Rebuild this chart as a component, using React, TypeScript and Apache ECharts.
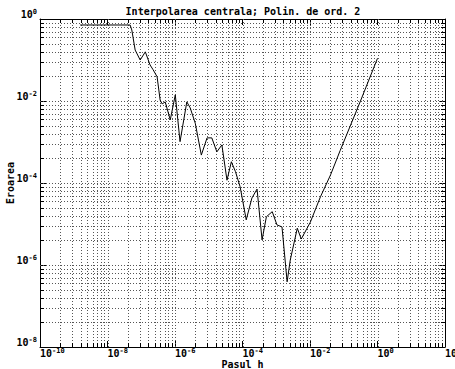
import React, { useEffect, useRef } from 'react';
import * as echarts from 'echarts';

const TITLE = 'Interpolarea centrala; Polin. de ord. 2';
const X_NAME = 'Pasul h';
const Y_NAME = 'Eroarea';

const X_MIN = 1e-10;
const X_MAX = 1e2;
const Y_MIN = 1e-8;
const Y_MAX = 1;

// labelled powers of ten (every two decades)
const xTickExp = [-10, -8, -6, -4, -2, 0, 2];
const yTickExp = [-8, -6, -4, -2, 0];
// minor grid multipliers inside each two-decade span
const minorMult = [4, 9, 16, 25, 36, 49, 64, 81];

// step h and error values
const stepH = [
  1.55e-9, 4.68e-8, 5.25e-8, 6.6e-8, 9.3e-8, 1.32e-7, 1.82e-7, 2.24e-7, 2.95e-7,
  3.63e-7, 4.17e-7, 5.13e-7, 7.24e-7, 1.02e-6, 1.41e-6, 2.24e-6, 2.82e-6, 3.98e-6,
  6.03e-6, 8.9e-6, 1.23e-5, 1.74e-5, 2.45e-5, 3.47e-5, 4.68e-5, 6.17e-5, 8.5e-5,
  1.29e-4, 1.9e-4, 2.7e-4, 3.8e-4, 5.1e-4, 7.6e-4, 1.05e-3, 1.48e-3, 2.1e-3,
  2.6e-3, 4.2e-3, 5.5e-3, 1.02e-2, 2.04e-2, 4.07e-2, 7.9e-2, 0.313, 1.0,
];
const errorE = [
  0.714, 0.714, 0.54, 0.175, 0.1, 0.158, 0.076, 0.058, 0.039,
  0.0105, 0.0085, 0.0095, 0.00347, 0.0141, 0.00102, 0.0095, 0.0068, 0.00288,
  4.8e-4, 1.26e-3, 1.26e-3, 5.75e-4, 8.5e-4, 1.17e-4, 3.3e-4, 1.9e-4, 8.1e-5,
  1.26e-5, 4.3e-5, 7.1e-5, 4.1e-6, 1.5e-5, 2.0e-5, 9.5e-6, 8.5e-6, 3.9e-7,
  1.32e-6, 7.9e-6, 4.3e-6, 1.1e-5, 4.6e-5, 1.58e-4, 6.3e-4, 0.01, 0.11,
];

const FONT = '"DejaVu Sans Mono", "Liberation Mono", monospace';

function gridValues(exps: number[]) {
  const majors: number[] = [];
  const minors: number[] = [];
  for (let i = 0; i < exps.length; i++) {
    const base = Math.pow(10, exps[i]);
    if (i > 0 && i < exps.length - 1) majors.push(base);
    if (i < exps.length - 1) minorMult.forEach((m) => minors.push(base * m));
  }
  return { majors, minors };
}

function makeGridSeries(dir: 'x' | 'y', exps: number[]) {
  const { majors, minors } = gridValues(exps);
  const data = [
    ...majors.map((v) => (dir === 'x' ? [v, Y_MIN, 1] : [X_MIN, v, 1])),
    ...minors.map((v) => (dir === 'x' ? [v, Y_MIN, 0] : [X_MIN, v, 0])),
  ];
  return {
    type: 'custom',
    silent: true,
    clip: false,
    z: 1,
    xAxisIndex: 0,
    yAxisIndex: 0,
    data,
    renderItem: (params: any, api: any) => {
      const isMajor = api.value(2) === 1;
      const children: any[] = [];
      const dotted = { stroke: '#555', lineWidth: 1, lineDash: [1, 2] };
      const solid = { stroke: '#000', lineWidth: 1 };
      const TL = 4;
      if (dir === 'x') {
        const v = api.value(0);
        const t = api.coord([v, Y_MAX]);
        const b = api.coord([v, Y_MIN]);
        const x = Math.round(t[0]) + 0.5;
        children.push({ type: 'line', shape: { x1: x, y1: t[1], x2: x, y2: b[1] }, style: dotted });
        if (!isMajor) {
          children.push({ type: 'line', shape: { x1: x, y1: b[1], x2: x, y2: b[1] - TL }, style: solid });
          children.push({ type: 'line', shape: { x1: x, y1: t[1], x2: x, y2: t[1] + TL }, style: solid });
        }
      } else {
        const v = api.value(1);
        const l = api.coord([X_MIN, v]);
        const r = api.coord([X_MAX, v]);
        const y = Math.round(l[1]) + 0.5;
        children.push({ type: 'line', shape: { x1: l[0], y1: y, x2: r[0], y2: y }, style: dotted });
        if (!isMajor) {
          children.push({ type: 'line', shape: { x1: l[0], y1: y, x2: l[0] + TL, y2: y }, style: solid });
          children.push({ type: 'line', shape: { x1: r[0], y1: y, x2: r[0] - TL, y2: y }, style: solid });
        }
      }
      return { type: 'group', children };
    },
  };
}

const rich = {
  b: { fontSize: 10, fontWeight: 'bold', fontFamily: FONT, color: '#000', verticalAlign: 'bottom', lineHeight: 11 },
  s: { fontSize: 7, fontWeight: 'bold', fontFamily: FONT, color: '#000', verticalAlign: 'top', lineHeight: 8 },
};
const powLabel = (v: number) => `{b|10}{s|${Math.round(Math.log10(v))}}`;

export default function App() {
  const ref = useRef<HTMLDivElement>(null);
  useEffect(() => {
    if (!ref.current) return;
    const chart = echarts.init(ref.current, null, { renderer: 'svg' });
    const axisLine = { show: true, lineStyle: { color: '#000', width: 1 } };
    const majorTick = { show: true, inside: true, length: 6, lineStyle: { color: '#000', width: 1 } };
    const xBase = {
      type: 'log',
      logBase: 100,
      min: X_MIN,
      max: X_MAX,
      splitNumber: 6,
      axisLine,
      axisTick: majorTick,
      splitLine: { show: false },
      minorTick: { show: false },
    };
    const yBase = {
      type: 'log',
      logBase: 100,
      min: Y_MIN,
      max: Y_MAX,
      splitNumber: 4,
      axisLine,
      axisTick: majorTick,
      splitLine: { show: false },
      minorTick: { show: false },
    };
    chart.setOption({
      animation: false,
      backgroundColor: '#fff',
      grid: { left: 40, right: 10, top: 19, bottom: 22, containLabel: false, outerBoundsMode: 'none' },
      graphic: [
        {
          type: 'text',
          x: 243,
          y: 6,
          style: {
            text: TITLE,
            textAlign: 'center',
            textVerticalAlign: 'top',
            font: `bold 10px ${FONT}`,
            fill: '#000',
          },
        },
      ],
      xAxis: [
        {
          ...xBase,
          position: 'bottom',
          name: X_NAME,
          nameLocation: 'middle',
          nameGap: 12,
          nameMoveOverlap: false,
          nameTextStyle: {
            fontSize: 10,
            fontWeight: 'bold',
            fontFamily: FONT,
            color: '#000',
            verticalAlign: 'top',
            lineHeight: 10,
          },
          axisLabel: {
            show: true,
            margin: 0,
            align: 'left',
            verticalAlign: 'top',
            formatter: powLabel,
            rich,
            showMinLabel: true,
            showMaxLabel: true,
            hideOverlap: false,
          },
        },
        { ...xBase, position: 'top', axisLabel: { show: false } },
      ],
      yAxis: [
        {
          ...yBase,
          position: 'left',
          name: Y_NAME,
          nameLocation: 'middle',
          nameGap: 25,
          nameMoveOverlap: false,
          nameTextStyle: { fontSize: 10, fontWeight: 'bold', fontFamily: FONT, color: '#000' },
          axisLabel: {
            show: true,
            margin: 3,
            align: 'right',
            verticalAlign: 'bottom',
            formatter: powLabel,
            rich,
            showMinLabel: true,
            showMaxLabel: true,
          },
        },
        { ...yBase, position: 'right', axisLabel: { show: false } },
      ],
      series: [
        makeGridSeries('x', xTickExp),
        makeGridSeries('y', yTickExp),
        {
          type: 'line',
          xAxisIndex: 0,
          yAxisIndex: 0,
          z: 3,
          data: stepH.map((h, i) => [h, errorE[i]]),
          showSymbol: false,
          symbol: 'none',
          lineStyle: { color: '#000', width: 1 },
          silent: true,
        },
      ],
    });
    return () => chart.dispose();
  }, []);
  return <div ref={ref} style={{ position: 'absolute', left: 0, top: 0, width: 455, height: 369 }} />;
}
